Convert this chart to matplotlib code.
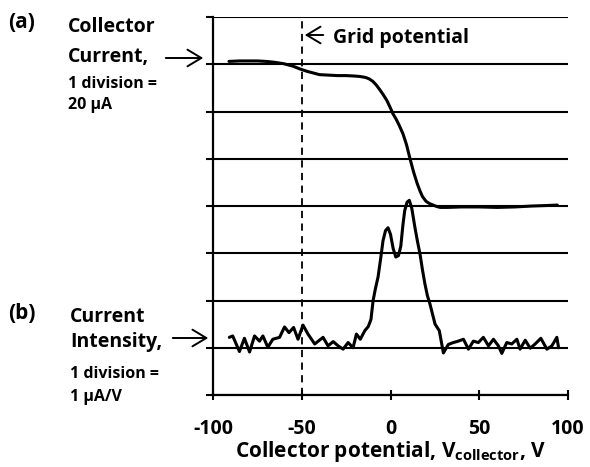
import matplotlib
matplotlib.use("Agg")
import matplotlib.pyplot as plt

plt.rcParams['font.family'] = ['Open Sans', 'DejaVu Sans']

# Collector current (divisions)
cur_x = [-91, -85, -80, -75, -70, -65, -60, -55, -51, -47, -43, -40, -35, -30, -25, -20, -17, -14,
         -12, -10, -8, -6, -4, -2, 0, 1.4, 3, 5, 7, 9, 11, 13, 15, 16.6, 18, 20, 22, 24, 26, 28,
         32, 40, 50, 60, 70, 80, 88, 94]
cur_y = [7.06, 7.07, 7.07, 7.07, 7.06, 7.04, 7.01, 6.96, 6.90, 6.85, 6.81, 6.78, 6.77, 6.76, 6.76,
         6.75, 6.74, 6.72, 6.69, 6.64, 6.56, 6.46, 6.35, 6.23, 6.07, 5.95, 5.85, 5.70, 5.53, 5.30,
         5.00, 4.72, 4.48, 4.32, 4.20, 4.10, 4.05, 4.02, 3.99, 3.97, 3.97, 3.98, 3.98, 3.97, 3.98,
         4.00, 4.01, 4.02]

# Current intensity (divisions)
int_x = [-90.8, -88.9, -85.1, -82.3, -79.4, -76.6, -73.8, -71.9, -69.1, -66.3, -62.5, -59.7,
         -57.2, -54.6, -52.1, -49.3, -46.5, -42.7, -38.0, -35.2, -32.3, -29.5, -26.7, -23.9,
         -21.1, -19.2, -17.0, -14.5, -12.5, -11.0, -9.8, -8.5, -7.0, -5.5, -4.2, -2.8, -1.4, 0.0,
         1.5, 3.0, 4.5, 5.8, 7.0, 8.0, 9.3, 10.6, 12.0, 13.7, 15.2, 16.6, 18.0, 19.4, 20.8, 22.2,
         25.1, 27.5, 29.8, 32.6, 35.4, 38.2, 41.1, 43.9, 46.7, 49.5,
         52.3, 55.2, 58.0, 60.8, 62.7, 65.5, 68.3, 71.2, 73.0, 75.9, 78.7, 81.5, 84.7, 88.1,
         90.9, 93.7, 94.7]
int_y = [1.22, 1.25, 0.92, 1.20, 0.91, 1.25, 1.14, 1.25, 1.01, 1.18, 1.22, 1.44,
         1.32, 1.43, 1.18, 1.48, 1.29, 1.08, 1.22, 1.04, 1.13, 1.04, 0.97, 1.11,
         1.00, 1.29, 1.18, 1.36, 1.45, 1.60, 2.00, 2.25, 2.50, 2.90, 3.27, 3.48, 3.54, 3.40,
         3.10, 2.92, 2.95, 3.15, 3.60, 3.90, 4.08, 4.12, 3.95, 3.56, 3.25, 2.99, 2.65, 2.35, 2.10, 1.93,
         1.50, 1.36, 0.89, 1.07, 1.11, 1.14, 1.18, 0.97, 1.14, 1.11,
         1.22, 1.04, 1.18, 1.04, 0.88, 1.11, 1.08, 1.18, 0.97, 1.16, 0.99, 1.08, 1.20, 0.97,
         1.04, 1.22, 1.00]

x_ticks = [-100, -50, 0, 50, 100]
x_tick_labels = ['-100', '-50', '0', '50', '100']
grid_v = -50

fig = plt.figure(figsize=(5.9, 4.67), dpi=100)
ax = fig.add_axes([213/590, 1-395/467, (568-213)/590, (395-17)/467])
ax.set_xlim(-100, 100)
ax.set_ylim(0, 8)

for s in ['top', 'right']:
    ax.spines[s].set_visible(False)
for s in ['left', 'bottom']:
    ax.spines[s].set_linewidth(1.6)

ax.set_yticks(range(0, 9))
ax.set_yticklabels([])
ax.yaxis.grid(True, color='black', linewidth=1.5)
ax.tick_params(axis='y', length=5, width=1.5, direction='out')
ax.set_xticks(x_ticks)
ax.set_xticklabels(x_tick_labels, fontsize=14, fontweight='bold')
ax.tick_params(axis='x', length=7, width=1.5, direction='inout', pad=14)
ax.set_axisbelow(True)

ax.axvline(grid_v, color='black', linestyle=(0, (4, 3)), linewidth=1.3)
ax.plot(cur_x, cur_y, color='black', linewidth=2.2, solid_joinstyle='round', solid_capstyle='round')
ax.plot(int_x, int_y, color='black', linewidth=2.2, solid_joinstyle='round', solid_capstyle='round')

ax.set_xlabel(r'Collector potential, V$_\mathregular{collector}$, V', fontsize=15,
              fontweight='bold', labelpad=0)

def t(x, y, s, size):
    fig.text(x/590, 1-y/467, s, fontsize=size, fontweight='bold', va='baseline', ha='left')

t(8, 28, '(a)', 15)
t(68, 32, 'Collector', 14)
t(68, 62, 'Current,', 14)
t(68, 88, '1 division =', 11.5)
t(68, 109, '20 µA', 11.5)
t(8, 319, '(b)', 15)
t(70, 322, 'Current', 14)
t(70, 347, 'Intensity,', 14)
t(70, 378, '1 division =', 11.5)
t(70, 401, '1 µA/V', 11.5)
t(333, 43, 'Grid potential', 14)

arrow = dict(arrowstyle='->,head_length=0.5,head_width=0.3', color='black', linewidth=1.4,
             mutation_scale=20)
for (x0, x1, y) in [(163, 206, 58), (170, 211, 338), (326, 302, 35)]:
    ax.annotate('', xy=(x1/590, 1-y/467), xytext=(x0/590, 1-y/467),
                xycoords='figure fraction', textcoords='figure fraction', arrowprops=arrow,
                annotation_clip=False)

fig.savefig('out.png', dpi=100)
